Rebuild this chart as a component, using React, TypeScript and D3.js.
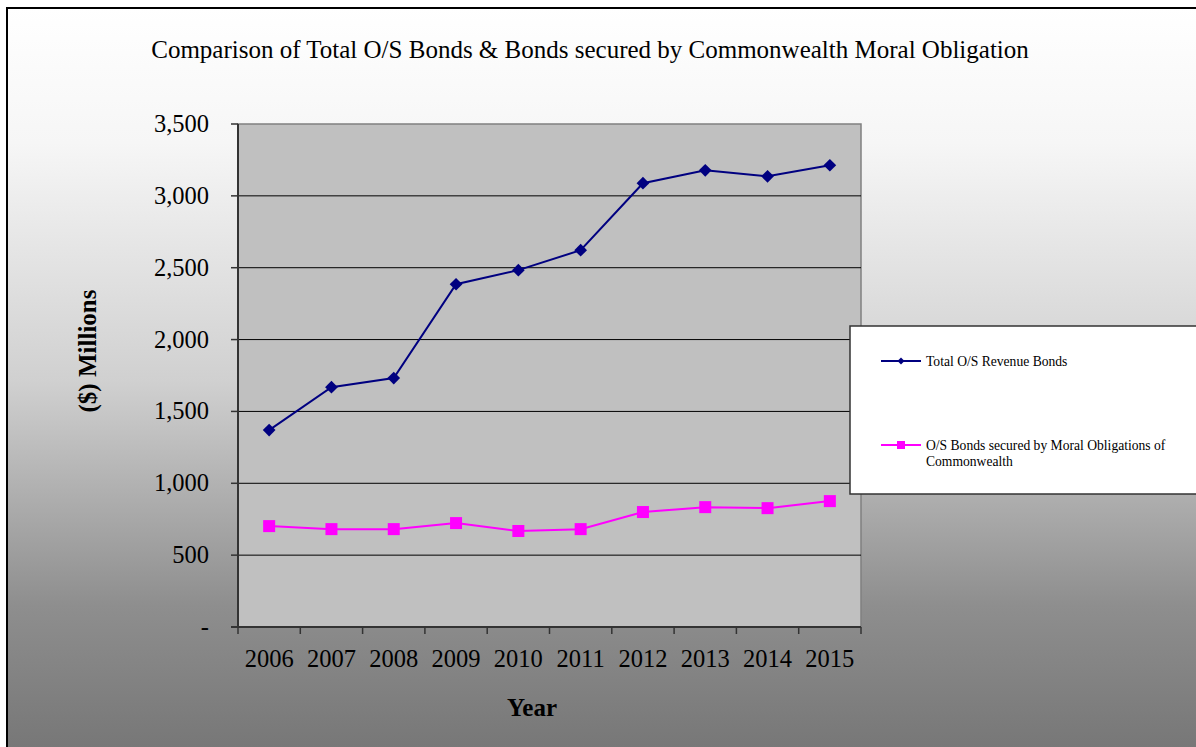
import React from "react";
import * as d3 from "d3";

const years = ["2006", "2007", "2008", "2009", "2010", "2011", "2012", "2013", "2014", "2015"];
const totalBonds = [1370, 1669, 1732, 2385, 2483, 2622, 3088, 3178, 3136, 3213];
const moralBonds = [702, 681, 681, 723, 668, 681, 800, 834, 827, 876];
const yTicks = [0, 500, 1000, 1500, 2000, 2500, 3000, 3500];
const seriesNames = ["Total O/S Revenue Bonds", "O/S Bonds secured by Moral Obligations of", "Commonwealth"];

const W = 1196, H = 747;
const L = 238, R = 861, T = 124, B = 627;

export default function App() {
  const x = d3.scaleBand<string>().domain(years).range([L, R]);
  const y = d3.scaleLinear().domain([0, 3500]).range([B, T]);
  const cx = (i: number) => (x(years[i]) as number) + x.bandwidth() / 2;
  const line = d3.line<number>().x((_, i) => cx(i)).y((d) => y(d));
  const fmt = (v: number) => (v === 0 ? "-" : d3.format(",")(v));
  const font = "'Liberation Serif', 'Times New Roman', serif";
  const boundaries = d3.range(years.length + 1).map((i) => L + i * x.bandwidth());

  return (
    <svg width={W} height={H} style={{ position: "absolute", left: 0, top: 0 }} fontFamily={font}>
      <defs>
        <linearGradient id="bg" x1="0" y1="0" x2="0" y2="1">
          <stop offset="0" stopColor="#ffffff" />
          <stop offset="0.18" stopColor="#f6f6f6" />
          <stop offset="0.5" stopColor="#d0d0d0" />
          <stop offset="0.8" stopColor="#8e8e8e" />
          <stop offset="1" stopColor="#767676" />
        </linearGradient>
      </defs>
      <rect x={7} y={8} width={W} height={H} fill="url(#bg)" stroke="#000" strokeWidth={2} />
      <text x={590} y={58} fontSize={25} textAnchor="middle" fill="#000">
        Comparison of Total O/S Bonds &amp; Bonds secured by Commonwealth Moral Obligation
      </text>
      <rect x={L} y={T} width={R - L} height={B - T} fill="#c0c0c0" stroke="#808080" strokeWidth={1.5} />
      {yTicks.map((t) => (
        <g key={t}>
          {t > 0 && t < 3500 && <line x1={L} x2={R} y1={y(t)} y2={y(t)} stroke="#000" strokeWidth={1} />}
          <line x1={L - 7} x2={L} y1={y(t)} y2={y(t)} stroke="#333" strokeWidth={1.5} />
          <text x={209} y={y(t) + 8} fontSize={24.5} textAnchor="end" fill="#000">{fmt(t)}</text>
        </g>
      ))}
      <line x1={L} x2={L} y1={T} y2={B} stroke="#333" strokeWidth={2} />
      <line x1={L - 7} x2={R} y1={B} y2={B} stroke="#333" strokeWidth={2} />
      {boundaries.map((b, i) => (
        <line key={i} x1={b} x2={b} y1={B} y2={B + 7} stroke="#333" strokeWidth={1.5} />
      ))}
      {years.map((yr, i) => (
        <text key={yr} x={cx(i)} y={667} fontSize={24.5} textAnchor="middle" fill="#000">{yr}</text>
      ))}
      <text x={532} y={716} fontSize={25} fontWeight="bold" textAnchor="middle">Year</text>
      <text transform="translate(96,351) rotate(-90)" fontSize={25} fontWeight="bold" textAnchor="middle">($) Millions</text>

      <path d={line(totalBonds) as string} fill="none" stroke="#000080" strokeWidth={2} />
      {totalBonds.map((v, i) => (
        <rect key={i} x={-4.5} y={-4.5} width={9} height={9} fill="#000080"
          transform={`translate(${cx(i)},${y(v)}) rotate(45)`} />
      ))}
      <path d={line(moralBonds) as string} fill="none" stroke="#ff00ff" strokeWidth={2} />
      {moralBonds.map((v, i) => (
        <rect key={i} x={cx(i) - 6} y={y(v) - 6} width={12} height={12} fill="#ff00ff" />
      ))}

      <rect x={850} y={326} width={360} height={168} fill="#fff" stroke="#333" strokeWidth={1.5} />
      <line x1={881} x2={921} y1={361} y2={361} stroke="#000080" strokeWidth={2} />
      <rect x={-2.5} y={-2.5} width={5} height={5} fill="#000080" transform="translate(901,361) rotate(45)" />
      <text x={926} y={366} fontSize={13.6} fill="#000">{seriesNames[0]}</text>
      <line x1={881} x2={921} y1={445} y2={445} stroke="#ff00ff" strokeWidth={2} />
      <rect x={897} y={441} width={8} height={8} fill="#ff00ff" />
      <text x={926} y={450} fontSize={13.6} fill="#000">{seriesNames[1]}</text>
      <text x={926} y={466} fontSize={13.6} fill="#000">{seriesNames[2]}</text>
    </svg>
  );
}
